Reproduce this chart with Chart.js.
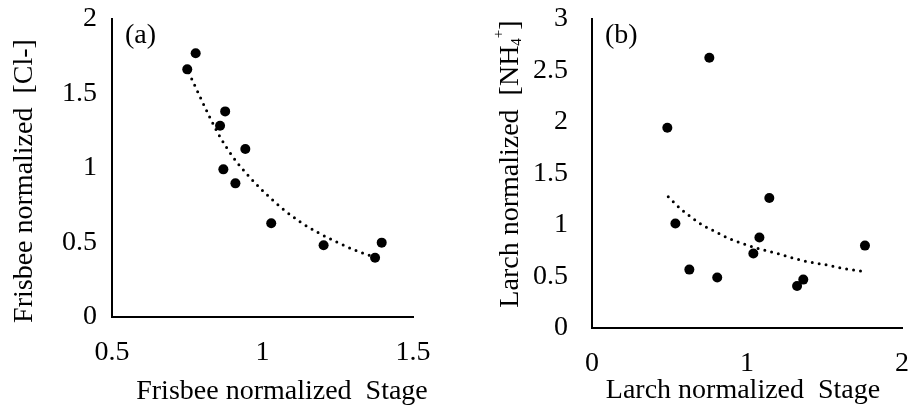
<!DOCTYPE html>
<html>
<head>
<meta charset="utf-8">
<script src="https://cdn.jsdelivr.net/npm/chart.js@4/dist/chart.umd.min.js"></script>
<style>
	body { margin: 0; background: #fff; }
	.wrap { display: flex; width: 912px; height: 412px; }
	canvas { display: block; }
</style>
</head>
<body>
<div class="wrap">
	<canvas id="chartA" width="456" height="412"></canvas>
	<canvas id="chartB" width="456" height="412"></canvas>
</div>
<script>
// (a) Frisbee
const frisbeeStage = [0.750, 0.778, 0.876, 0.859, 0.943, 0.870, 0.910, 1.029, 1.203, 1.374, 1.396];
const frisbeeCl    = [1.662, 1.770, 1.380, 1.284, 1.128, 0.991, 0.897, 0.629, 0.481, 0.398, 0.499];
// dotted trend
const frisbeeTrendStage = [0.755, 0.796, 0.828, 0.863, 0.902, 0.947, 1.004, 1.072, 1.127, 1.185, 1.253, 1.320, 1.375];
const frisbeeTrendCl    = [1.640, 1.463, 1.327, 1.195, 1.074, 0.962, 0.841, 0.718, 0.636, 0.566, 0.497, 0.438, 0.400];
const frisbeeXTicks = [0.5, 1, 1.5];
const frisbeeYTicks = [0, 0.5, 1, 1.5, 2];

// (b) Larch
const larchStage = [0.757, 0.486, 1.144, 0.538, 1.080, 1.041, 1.761, 0.628, 0.808, 1.363, 1.323];
const larchNH4   = [2.624, 1.944, 1.263, 1.014, 0.878, 0.723, 0.800, 0.567, 0.490, 0.470, 0.408];
const larchTrendStage = [0.492, 0.572, 0.641, 0.714, 0.800, 0.884, 0.968, 1.052, 1.135, 1.228, 1.370, 1.514, 1.654, 1.750];
const larchTrendNH4   = [1.275, 1.157, 1.076, 0.998, 0.933, 0.869, 0.823, 0.781, 0.748, 0.709, 0.651, 0.612, 0.570, 0.551];
const larchXTicks = [0, 1, 2];
const larchYTicks = [0, 0.5, 1, 1.5, 2, 2.5, 3];

const FONT = '"Liberation Serif", "Times New Roman", serif';
const SIZE = 28;

function pairs(xs, ys) {
	return xs.map(function (x, i) { return { x: x, y: ys[i] }; });
}

// panel tag + axis titles; y title pieces can be plain text or {t, shift, size}
const titlesPlugin = {
	id: 'titles',
	afterDraw: function (chart, args, o) {
		let ctx = chart.ctx, area = chart.chartArea;
		ctx.save();
		ctx.fillStyle = '#000';
		ctx.font = SIZE + 'px ' + FONT;

		ctx.textAlign = 'left';
		ctx.textBaseline = 'middle';
		ctx.fillText(o.panel, area.left + 13, area.top + 17);

		ctx.textAlign = 'center';
		ctx.textBaseline = 'alphabetic';
		ctx.fillText(o.xTitle, o.xAt[0], o.xAt[1]);

		let pieces = o.yTitle.map(function (p) {
			return typeof p === 'string' ? { t: p, shift: 0, size: SIZE } : p;
		});
		let total = 0;
		pieces.forEach(function (p) {
			ctx.font = p.size + 'px ' + FONT;
			p.w = ctx.measureText(p.t).width;
			total += p.w;
		});

		ctx.translate(o.yAt[0], o.yAt[1]);
		ctx.rotate(-Math.PI / 2);
		ctx.textAlign = 'left';
		let pos = -total / 2;
		pieces.forEach(function (p) {
			ctx.font = p.size + 'px ' + FONT;
			ctx.fillText(p.t, pos, p.shift);
			pos += p.w;
		});
		ctx.restore();
	}
};

function makeChart(id, d) {
	let ctx = document.getElementById(id).getContext('2d');
	return new Chart(ctx, {
		type: 'scatter',
		data: {
			datasets: [{
				data: pairs(d.xs, d.ys),
				backgroundColor: '#000',
				borderWidth: 0,
				pointRadius: 5,
				pointHoverRadius: 5
			}, {
				data: pairs(d.txs, d.tys),
				showLine: true,
				pointRadius: 0,
				borderColor: '#000',
				borderWidth: 3,
				borderDash: [0, 7],
				borderCapStyle: 'round',
				cubicInterpolationMode: 'monotone',
				fill: false
			}]
		},
		options: {
			responsive: false,
			animation: false,
			devicePixelRatio: 1,
			layout: { padding: d.padding },
			plugins: {
				legend: { display: false },
				tooltip: { enabled: false },
				titles: d.titles
			},
			scales: {
				x: {
					type: 'linear',
					min: d.xTicks[0],
					max: d.xTicks[d.xTicks.length - 1],
					afterBuildTicks: function (s) { s.ticks = d.xTicks.map(function (v) { return { value: v }; }); },
					afterFit: function (s) {
						s.height = d.xHeight;
						s.paddingLeft = s.paddingRight = 0;
					},
					grid: { display: false, drawTicks: false },
					border: { display: true, color: '#000', width: 2 },
					ticks: {
						color: '#000', padding: 19,
						font: { family: FONT, size: SIZE },
						callback: function (v) { return String(v); }
					}
				},
				y: {
					type: 'linear',
					min: d.yTicks[0],
					max: d.yTicks[d.yTicks.length - 1],
					afterBuildTicks: function (s) { s.ticks = d.yTicks.map(function (v) { return { value: v }; }); },
					afterFit: function (s) {
						s.width = d.yWidth;
						// tick padding would otherwise push the plot top down
						s.paddingTop = s.paddingBottom = 0;
					},
					grid: { display: false, drawTicks: false },
					border: { display: true, color: '#000', width: 2 },
					ticks: {
						color: '#000', padding: d.yPad,
						font: { family: FONT, size: SIZE },
						callback: function (v) { return String(v); }
					}
				}
			}
		},
		plugins: [titlesPlugin]
	});
}

makeChart('chartA', {
	xs: frisbeeStage, ys: frisbeeCl,
	txs: frisbeeTrendStage, tys: frisbeeTrendCl,
	xTicks: frisbeeXTicks, yTicks: frisbeeYTicks,
	padding: { left: 0, right: 43, top: 19, bottom: 0 },
	xHeight: 95, yWidth: 112, yPad: 15,
	titles: {
		panel: '(a)',
		xTitle: 'Frisbee normalized  Stage', xAt: [282, 399],
		yTitle: ['Frisbee normalized  [Cl-]'], yAt: [32, 181]
	}
});

makeChart('chartB', {
	xs: larchStage, ys: larchNH4,
	txs: larchTrendStage, tys: larchTrendNH4,
	xTicks: larchXTicks, yTicks: larchYTicks,
	padding: { left: 0, right: 10, top: 19, bottom: 0 },
	xHeight: 84, yWidth: 136, yPad: 24,
	titles: {
		panel: '(b)',
		xTitle: 'Larch normalized  Stage', xAt: [287, 398],
		yTitle: ['Larch normalized  [NH', { t: '4', shift: 3, size: 15 }, { t: '+', shift: -15, size: 15 }, ']'],
		yAt: [62, 164]
	}
});
</script>
</body>
</html>
